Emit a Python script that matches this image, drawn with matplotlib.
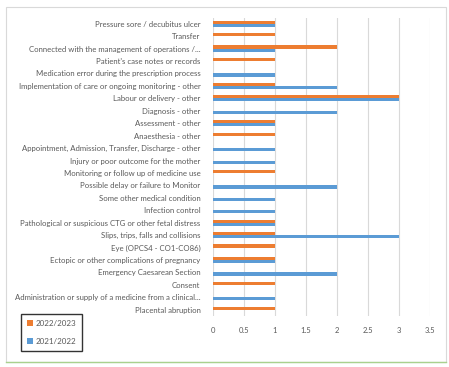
import matplotlib.pyplot as plt
import numpy as np
from matplotlib.patches import Rectangle
from matplotlib.lines import Line2D

# categories, top to bottom
categories = [
    "Pressure sore / decubitus ulcer",
    "Transfer",
    "Connected with the management of operations /...",
    "Patient's case notes or records",
    "Medication error during the prescription process",
    "Implementation of care or ongoing monitoring - other",
    "Labour or delivery - other",
    "Diagnosis - other",
    "Assessment - other",
    "Anaesthesia - other",
    "Appointment, Admission, Transfer, Discharge - other",
    "Injury or poor outcome for the mother",
    "Monitoring or follow up of medicine use",
    "Possible delay or failure to Monitor",
    "Some other medical condition",
    "Infection control",
    "Pathological or suspicious CTG or other fetal distress",
    "Slips, trips, falls and collisions",
    "Eye (OPCS4 - CO1-CO86)",
    "Ectopic or other complications of pregnancy",
    "Emergency Caesarean Section",
    "Consent",
    "Administration or supply of a medicine from a clinical...",
    "Placental abruption",
]
y2022_23 = [1, 1, 2, 1, 0, 1, 3, 0, 1, 1, 0, 0, 1, 0, 0, 0, 1, 1, 1, 1, 0, 1, 0, 1]
y2021_22 = [1, 0, 1, 0, 1, 2, 3, 2, 1, 0, 1, 1, 0, 2, 1, 1, 1, 3, 0, 1, 2, 0, 1, 0]
xticks = [0, 0.5, 1, 1.5, 2, 2.5, 3, 3.5]

orange = "#ED7D31"
blue = "#5B9BD5"
txt = "#595959"

plt.rcParams['font.family'] = ['Lato', 'DejaVu Sans']

fig = plt.figure(figsize=(4.49, 3.67), dpi=100)
ax = fig.add_axes([213 / 449, 1 - 316 / 367, 217 / 449, (316 - 17.5) / 367])

pos = np.arange(len(categories))[::-1]
h = 0.25
ax.barh(pos + h / 2, y2022_23, height=h, color=orange, label="2022/2023", zorder=3)
ax.barh(pos - h / 2, y2021_22, height=h, color=blue, label="2021/2022", zorder=3)

ax.set_xlim(0, 3.5)
ax.set_ylim(-0.5, len(categories) - 0.5)
ax.set_xticks(xticks)
ax.set_xticklabels([f"{t:g}" for t in xticks], fontsize=5.5, color=txt)
ax.set_yticks(pos)
ax.set_yticklabels(categories, fontsize=5.6, color=txt)
ax.tick_params(length=0, pad=9)
ax.tick_params(axis='x', pad=8)
ax.grid(axis='x', color="#d9d9d9", linewidth=0.8, zorder=0)
for s in ax.spines.values():
    s.set_visible(False)

leg = fig.legend(loc='lower left', bbox_to_anchor=(21 / 449, 1 - 351 / 367), frameon=True,
                 fontsize=5.8, handlelength=0.7, handleheight=0.7, handletextpad=0.3,
                 labelspacing=1.4, borderpad=0.75, borderaxespad=0, fancybox=False,
                 labelcolor=txt)
leg.get_frame().set_edgecolor("black")
leg.get_frame().set_linewidth(1.0)

# chart area border
fig.patches.append(Rectangle((6 / 449, 1 - 362 / 367), 440 / 449, 355 / 367,
                             transform=fig.transFigure, fill=False,
                             edgecolor="#d9d9d9", linewidth=0.8))
fig.lines.append(Line2D([6 / 449, 446 / 449], [1 - 362 / 367] * 2,
                        transform=fig.transFigure, color="#a9d18e", linewidth=1.0))

plt.savefig('out.png', dpi=100)
